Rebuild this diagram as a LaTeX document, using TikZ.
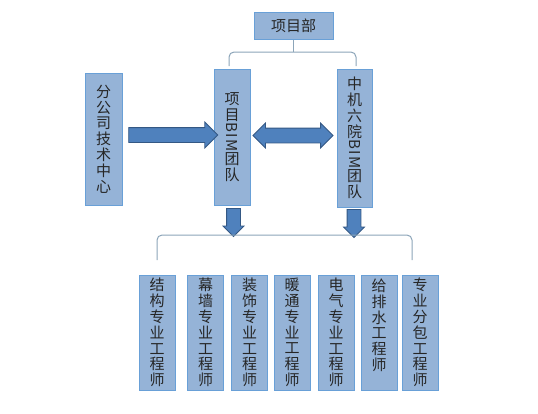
\documentclass[tikz,border=0pt]{standalone}
\usepackage{fontspec}
\setmainfont{Noto Sans CJK SC}
\usetikzlibrary{positioning,calc,shapes.arrows}

\definecolor{boxfill}{RGB}{149,179,215}
\definecolor{boxline}{RGB}{105,160,215}
\definecolor{arrfill}{RGB}{79,129,189}
\definecolor{arrline}{RGB}{52,88,132}
\definecolor{linkline}{RGB}{140,165,185}

\newcommand{\bimtxt}{\rotatebox[origin=c]{-90}{B\kern1.5pt I\kern1.5pt M}}

\begin{document}
\begin{tikzpicture}[x=1pt,y=-1pt,
  box/.style={draw=boxline,line width=1pt,fill=boxfill,inner sep=2pt,align=center,
    text=black!85,font=\fontsize{15}{15.8}\selectfont},
  engbox/.style={box,minimum width=36pt,minimum height=115pt},
  link/.style={draw=linkline,line width=1pt},
  bigarrow/.style={single arrow,draw=arrline,fill=arrfill,line width=0.8pt,inner sep=0pt,
    text height=7pt,text depth=7pt,single arrow head extend=5.5pt},
  smallarrow/.style={single arrow,draw=arrline,fill=arrfill,line width=0.8pt,inner sep=0pt,
    text width=13pt,text height=6.5pt,text depth=6.5pt,single arrow head extend=3.5pt,
    minimum height=28pt,shape border rotate=270}]

\useasboundingbox (0,0) rectangle (538,413);

% upper level
\node[box,minimum width=79pt,minimum height=27pt] (xmb) at (293.5,25.5) {项目部};
\node[box,minimum width=37pt,minimum height=132pt] (fgs) at (103.5,139) {分\\公\\司\\技\\术\\中\\心};
\node[box,minimum width=36pt,minimum height=136pt] (xmteam) at (232,137) {项\\目\\\bimtxt\\团\\队};
\node[box,minimum width=35pt,minimum height=138pt] (zjteam) at (354.5,138) {中\\机\\六\\院\\\bimtxt\\团\\队};

% brace under 项目部
\coordinate (tl) at (229,66);
\coordinate (tm) at (293.5,52);
\coordinate (tr) at (356,66);
\draw[link,rounded corners=5pt] (tl) |- (tm) -| (tr);
\draw[link] (xmb.south) -- (tm);

% block arrows
\node[bigarrow,minimum height=89pt] (a1) at (169.5,135) {};
\node[double arrow,draw=arrline,fill=arrfill,line width=0.8pt,inner sep=0pt,
  text height=7pt,text depth=7pt,double arrow head extend=5pt,minimum height=80pt] (a2) at (293,135.5) {};
\node[smallarrow] (d1) at (233.5,219) {};
\node[smallarrow] (d2) at (354,220) {};

% engineers
\node[engbox] (jg) at (157,332.5) {结\\构\\专\\业\\工\\程\\师};
\node[engbox] (mq) at (205.5,332.5) {幕\\墙\\专\\业\\工\\程\\师};
\node[engbox] (zs) at (249.5,332.5) {装\\饰\\专\\业\\工\\程\\师};
\node[engbox] (nt) at (292,332.5) {暖\\通\\专\\业\\工\\程\\师};
\node[engbox] (dq) at (336,332.5) {电\\气\\专\\业\\工\\程\\师};
\node[engbox] (gps) at (379,332.5) {给\\排\\水\\工\\程\\师\\~};
\node[engbox] (fb) at (420,332.5) {专\\业\\分\\包\\工\\程\\师};

% brace above engineers
\coordinate (bl) at (157,260);
\coordinate (bm) at (285,235);
\coordinate (br) at (412,260);
\draw[link,rounded corners=5pt] (bl) |- (bm) -| (br);

\end{tikzpicture}
\end{document}
